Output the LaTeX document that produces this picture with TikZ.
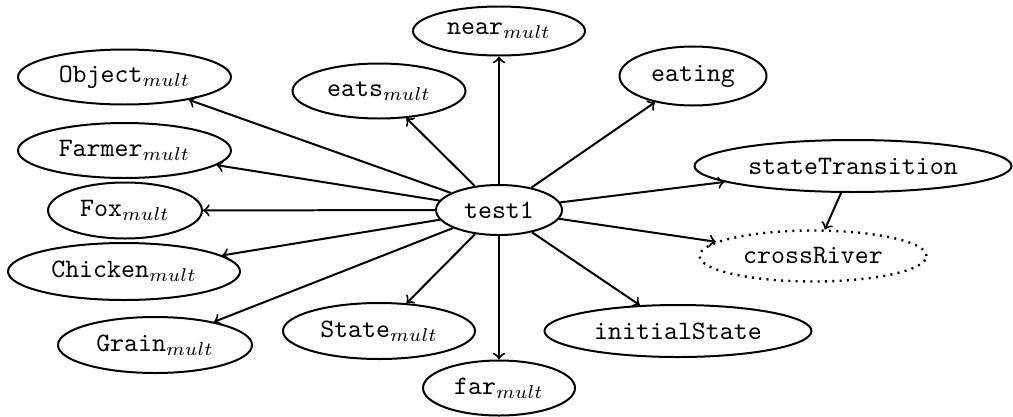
\documentclass[tikz,border=0pt]{standalone}
\usetikzlibrary{shapes.geometric}
\begin{document}
\begin{tikzpicture}[x=0.3759pt, y=-0.3759pt,
  obj/.style={draw, ellipse, line width=0.75pt, inner sep=0pt, font=\ttfamily},
  virt/.style={obj, dotted, line width=0.9pt},
  link/.style={->, line width=0.75pt}]
\useasboundingbox (0,0) rectangle (1013,416);

% central node and the concepts around it
\node[obj, minimum width=126*0.3759pt, minimum height=50*0.3759pt] (test) at (499,210) {test1};
\node[obj, minimum width=172*0.3759pt, minimum height=49*0.3759pt] (near) at (499,31) {near$_{mult}$};
\node[obj, minimum width=173*0.3759pt, minimum height=55*0.3759pt] (eats) at (379,91) {eats$_{mult}$};
\node[obj, minimum width=213*0.3759pt, minimum height=55*0.3759pt] (object) at (124.5,77) {Object$_{mult}$};
\node[obj, minimum width=213*0.3759pt, minimum height=55*0.3759pt] (farmer) at (124.5,150.5) {Farmer$_{mult}$};
\node[obj, minimum width=154*0.3759pt, minimum height=56*0.3759pt] (fox) at (125,210.5) {Fox$_{mult}$};
\node[obj, minimum width=232*0.3759pt, minimum height=57*0.3759pt] (chicken) at (124,271.5) {Chicken$_{mult}$};
\node[obj, minimum width=194*0.3759pt, minimum height=56*0.3759pt] (grain) at (155,345) {Grain$_{mult}$};
\node[obj, minimum width=192*0.3759pt, minimum height=56*0.3759pt] (state) at (379,331) {State$_{mult}$};
\node[obj, minimum width=152*0.3759pt, minimum height=55*0.3759pt] (far) at (499,388) {far$_{mult}$};
\node[obj, minimum width=267*0.3759pt, minimum height=52*0.3759pt] (init) at (678,331) {initialState};
\node[obj, minimum width=147*0.3759pt, minimum height=59*0.3759pt] (eating) at (693,76) {eating};
\node[obj, minimum width=317*0.3759pt, minimum height=52*0.3759pt] (trans) at (853,166) {stateTransition};
\node[virt, minimum width=227*0.3759pt, minimum height=51*0.3759pt] (cross) at (813,256) {crossRiver};

% connectors
\foreach \t in {near,eats,object,farmer,fox,chicken,grain,state,far,init,eating,trans,cross}
  \draw[link] (test) -- (\t);
\draw[link] (trans) -- (cross);
\end{tikzpicture}
\end{document}
